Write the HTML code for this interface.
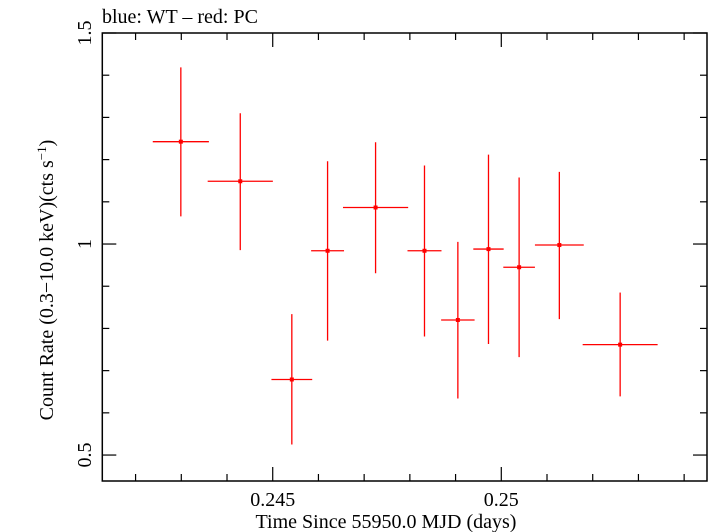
<!DOCTYPE html>
<html><head><meta charset="utf-8"><style>
html,body{margin:0;padding:0;background:#fff;}
svg{display:block;font-family:"Liberation Serif",serif;}
</style></head><body>
<svg id="chart" width="709" height="532" viewBox="0 0 709 532">
<text x="102" y="23" font-size="20">blue: WT – red: PC</text>
<g id="axes"></g>
<g id="marks"></g>
<text x="386" y="528" font-size="20" text-anchor="middle">Time Since 55950.0 MJD (days)</text>
<text transform="translate(53,280) rotate(-90)" font-size="20" text-anchor="middle">Count Rate (0.3−10.0 keV)(cts s<tspan dy="-7" font-size="13">−1</tspan><tspan dy="7">)</tspan></text>
</svg>
<script>
const times=[0.24299,0.24429,0.245418,0.2462,0.24725,0.24832,0.24905,0.24972,0.25039,0.25127,0.2526];
const timeErr=[0.000614,0.000713,0.000446,0.00036,0.000713,0.000372,0.000366,0.000332,0.000346,0.000534,0.00082];
const rates=[1.2425,1.1487,0.679,0.984,1.0865,0.984,0.82,0.988,0.945,0.9976,0.7616];
const rateHi=[1.4185,1.310,0.834,1.196,1.241,1.186,1.005,1.2117,1.1576,1.171,0.885];
const rateLo=[1.0656,0.9855,0.525,0.771,0.9306,0.781,0.634,0.763,0.732,0.822,0.639];
const xTicks=[0.245,0.25];
const xTickLabels=["0.245","0.25"];
const yTicks=[0.5,1,1.5];
const yTickLabels=["0.5","1","1.5"];
const L=102.3,R=707,T=33,B=481;
const xMin=0.241272,xMax=0.2545,yMin=0.4385,yMax=1.5;
const X=t=>L+(t-xMin)/(xMax-xMin)*(R-L);
const Y=v=>B-(v-yMin)/(yMax-yMin)*(B-T);
const NS="http://www.w3.org/2000/svg";
const axes=document.getElementById('axes'),marks=document.getElementById('marks');
function mk(tag,attrs,parent){const e=document.createElementNS(NS,tag);for(const k in attrs)e.setAttribute(k,attrs[k]);parent.appendChild(e);return e;}
const frame=mk('rect',{x:L,y:T,width:R-L,height:B-T,fill:'none',stroke:'#000','stroke-width':1.5},axes);


for(let i=242;i<=254;i++){const t=i/1000;if(t<xMin||t>xMax)continue;const x=X(t);const major=(i%5===0);const len=major?14:7;
const tk=mk('line',{x1:x,y1:B,x2:x,y2:B-len,stroke:'#000','stroke-width':1.2},axes);


const tk2=mk('line',{x1:x,y1:T,x2:x,y2:T+len,stroke:'#000','stroke-width':1.2},axes);

}
xTicks.forEach((t,i)=>{const tx=mk('text',{x:X(t),y:506,'font-size':20,'text-anchor':'middle'},axes);tx.textContent=xTickLabels[i];

});
for(let i=5;i<=15;i++){const v=i/10;const y=Y(v);const major=(i%5===0);const len=major?14:7;
const tk=mk('line',{x1:L,y1:y,x2:L+len,y2:y,stroke:'#000','stroke-width':1.2},axes);


const tk2=mk('line',{x1:R,y1:y,x2:R-len,y2:y,stroke:'#000','stroke-width':1.2},axes);

}
yTicks.forEach((v,i)=>{const tx=mk('text',{transform:`translate(91,${Y(v)}) rotate(-90)`,'font-size':20,'text-anchor':'middle'},axes);tx.textContent=yTickLabels[i];

});
times.forEach((t,i)=>{const g=mk('g',{},marks);


mk('line',{x1:X(t-timeErr[i]),x2:X(t+timeErr[i]),y1:Y(rates[i]),y2:Y(rates[i]),stroke:'#f00','stroke-width':1.3},g);
mk('line',{x1:X(t),x2:X(t),y1:Y(rateHi[i]),y2:Y(rateLo[i]),stroke:'#f00','stroke-width':1.3},g);
mk('rect',{x:X(t)-2,y:Y(rates[i])-2,width:4,height:4,fill:'#f00'},g);});
</script>
</body></html>
